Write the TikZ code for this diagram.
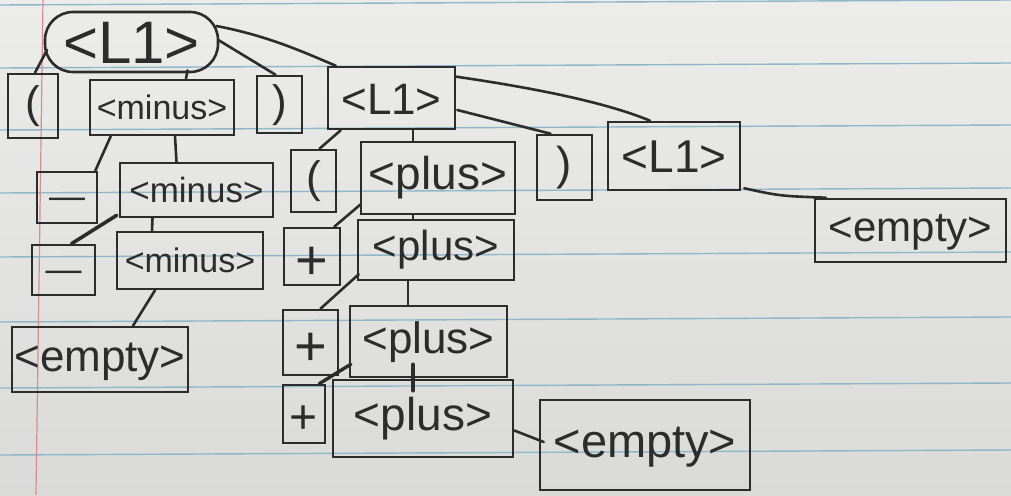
\documentclass[tikz,border=0pt]{standalone}
\usepackage{fontspec}
\setmainfont{Liberation Sans}
\usetikzlibrary{calc}
\definecolor{ink}{HTML}{2C2C2C}
\definecolor{rulecol}{HTML}{8DB7CB}
\definecolor{margincol}{HTML}{D98C8C}
\definecolor{paperT}{HTML}{ECECEA}
\definecolor{paperB}{HTML}{DADAD8}
\newcommand\myfs[1]{\fontsize{#1}{#1}\selectfont}
\begin{document}
\begin{tikzpicture}[x=1pt,y=-1pt,
  box/.style={draw=ink, line width=2.6pt, inner sep=0pt, text=ink},
  conn/.style={draw=ink, line width=2.6pt, line cap=round}]
% paper
\shade[top color=paperT, bottom color=paperB] (0,0) rectangle (1011,495);
\useasboundingbox (0,0) rectangle (1011,495);
\foreach \y in {5,68,130,193,257,322,388,455}
  \draw[rulecol, line width=1.4pt] (0,\y) -- (1011,\y-5);
\draw[margincol, line width=1.2pt] (43,0) -- (36,495);

% nodes
\node[box, rounded corners=28pt, minimum width=173, minimum height=60, font=\myfs{60}, text height=43pt, text depth=0pt] (root) at (131.5,42) {<L1>};
\node[box, minimum width=50, minimum height=64, font=\myfs{44}, text height=32pt, text depth=9pt] (lp1) at (33,106) {(};
\node[box, minimum width=144, minimum height=55, font=\myfs{34}, text height=24pt, text depth=0pt] (minus1) at (162,107.5) {<minus>};
\node[box, minimum width=45, minimum height=57, font=\myfs{44}, text height=32pt, text depth=9pt] (rp1) at (279.5,104.5) {)};
\node[box, minimum width=127, minimum height=62, font=\myfs{44}, text height=32pt, text depth=0pt] (L1b) at (391.5,98) {<L1>};
\node[box, minimum width=45, minimum height=62, font=\myfs{44}, text height=32pt, text depth=9pt] (lp2) at (313.5,181) {(};
\node[box, minimum width=154, minimum height=72, font=\myfs{46}, text height=33pt, text depth=10pt] (plus1) at (438,178) {<plus>};
\node[box, minimum width=55, minimum height=65, font=\myfs{46}, text height=33pt, text depth=10pt] (rp2) at (564.5,167.5) {)};
\node[box, minimum width=132, minimum height=68, font=\myfs{46}, text height=33pt, text depth=0pt] (L1c) at (674,156) {<L1>};
\node[box, minimum width=191, minimum height=63, font=\myfs{42}, text height=30pt, text depth=9pt] (empty1) at (910.5,230.5) {<empty>};

\node[box, minimum width=60, minimum height=51, font=\myfs{36}, text height=22pt, text depth=0pt] (m1) at (67,197.5) {—};
\node[box, minimum width=153, minimum height=54, font=\myfs{35}, text height=25pt, text depth=0pt] (minus2) at (196.5,190) {<minus>};
\node[box, minimum width=63, minimum height=50, font=\myfs{36}, text height=22pt, text depth=0pt] (m2) at (63.5,270) {—};
\node[box, minimum width=146, minimum height=57, font=\myfs{34}, text height=24pt, text depth=0pt] (minus3) at (190,260.5) {<minus>};
\node[box, minimum width=176, minimum height=65, font=\myfs{44}, text height=32pt, text depth=9pt] (empty2) at (100,359.5) {<empty>};

\node[box, minimum width=56, minimum height=57, font=\myfs{56}, text height=46pt, text depth=0pt] (p1) at (312,256.5) {+};
\node[box, minimum width=156, minimum height=60, font=\myfs{42}, text height=30pt, text depth=9pt] (plus2) at (436,250) {<plus>};
\node[box, minimum width=55, minimum height=65, font=\myfs{56}, text height=46pt, text depth=0pt] (p2) at (310.5,342.5) {+};
\node[box, minimum width=157, minimum height=71, font=\myfs{44}, text height=32pt, text depth=9pt] (plus3) at (428.5,341.5) {<plus>};
\node[box, minimum width=42, minimum height=58, font=\myfs{48}, text height=39pt, text depth=0pt] (p3) at (304,414) {+};
\node[box, minimum width=180, minimum height=77, font=\myfs{46}, text height=33pt, text depth=10pt] (plus4) at (423,418.5) {<plus>};
\node[box, minimum width=210, minimum height=90, font=\myfs{47}, text height=34pt, text depth=10pt] (empty3) at (645,445) {<empty>};

% connectors
\draw[conn] ($(root.center)+(-84.5,8)$) -- ($(lp1.north)+(2,0)$);
\draw[conn] ($(root.south)+(56,-3)$) -- ($(minus1.north)+(24,0)$);
\draw[conn] ($(root.east)+(-1,-2)$) -- ($(rp1.north)+(-4,0)$);
\draw[conn] ($(root.east)+(-3,-16)$) .. controls (270,36) and (310,55) .. ($(L1b.north west)+(9,0)$);
\draw[conn] ($(minus1.south west)+(22,0)$) -- ($(m1.north east)+(-3,0)$);
\draw[conn] ($(minus1.south)+(13,0)$) -- ($(minus2.north)+(-20,0)$);
\draw[conn, line width=3.6pt] ($(minus2.south west)+(-2,-3)$) -- ($(m2.north)+(8,0)$);
\draw[conn] ($(minus2.south)+(-44,0)$) -- ($(minus3.north)+(-38,0)$);
\draw[conn] ($(minus3.south)+(-35,0)$) -- ($(empty2.north)+(33,0)$);
\draw[conn] ($(L1b.south west)+(14,0)$) -- ($(lp2.north)+(6,0)$);
\draw[conn] ($(L1b.south)+(21.5,0)$) -- ($(plus1.north)+(-25,0)$);
\draw[conn] ($(L1b.east)+(1,12)$) -- ($(rp2.north)+(-14,0)$);
\draw[conn] ($(L1b.north east)+(0,11)$) .. controls (520,86) and (600,100) .. ($(L1c.north)+(-24,0)$);
\draw[conn] ($(plus1.south west)+(1,-11)$) -- ($(p1.north east)+(-7,0)$);
\draw[conn] ($(plus1.south)+(-25,0)$) -- ($(plus2.north)+(-23,0)$);
\draw[conn] ($(L1c.south east)+(3,-3)$) .. controls (780,196) .. ($(empty1.north west)+(12,0)$);
\draw[conn] ($(plus2.south west)+(2,-7)$) -- ($(p2.north)+(10,0)$);
\draw[conn] ($(plus2.south)+(-28,0)$) -- ($(plus3.north)+(-20.5,0)$);
\draw[conn, line width=3.4pt] ($(plus3.south west)+(2,-14)$) -- ($(p3.north east)+(-7,0)$);
\draw[conn, line width=3.6pt] ($(plus3.south)+(-15.5,-14)$) -- ($(plus4.north)+(-10,12)$);
\draw[conn] ($(plus4.east)+(0,12)$) -- ($(empty3.west)+(5,-3)$);
\end{tikzpicture}
\end{document}
